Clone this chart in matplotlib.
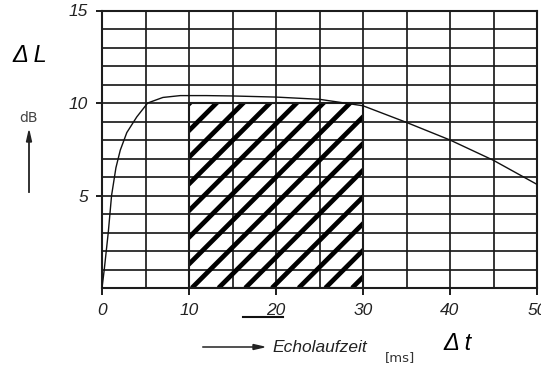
import matplotlib
matplotlib.use("Agg")
import matplotlib.pyplot as plt
import numpy as np
from matplotlib.patches import Rectangle
from matplotlib.lines import Line2D

# ---- data ----
echo_ms = [0, 0.26, 0.72, 1.1, 1.6, 2.1, 2.85, 4.0, 5.25, 7, 9, 12, 15, 20, 25, 30, 35, 40, 45, 50]
delta_L = [0, 1.0, 3.0, 5.0, 6.5, 7.45, 8.4, 9.25, 10.0, 10.3, 10.4, 10.4, 10.38, 10.32, 10.2, 9.85, 8.95, 8.0, 6.9, 5.6]
hatch_x = [10, 30]          # shaded time window (ms)
hatch_y = [0, 10]           # shaded level range (dB)
x_ticks = [0, 10, 20, 30, 40, 50]
x_ticklabels = ["0", "10", "20", "30", "40", "50"]
y_ticks = [5, 10, 15]
y_ticklabels = ["5", "10", "15"]

W, H = 541, 367
fig = plt.figure(figsize=(W / 100, H / 100), dpi=100)
fig.patch.set_facecolor("white")

# axes geometry in pixels
x0p, x1p = 102, 537
y0p, y1p = 288, 10.5
ax = fig.add_axes([x0p / W, 1 - y0p / H, (x1p - x0p) / W, (y0p - y1p) / H])
ax.set_xlim(0, 50)
ax.set_ylim(0, 15)

ink = "#1c1c1c"
# grid
for gx in np.arange(5, 50, 5):
    ax.axvline(gx, color=ink, lw=1.25, zorder=1)
for gy in np.arange(1, 15, 1):
    ax.axhline(gy, color=ink, lw=1.25, zorder=1)

for s in ax.spines.values():
    s.set_linewidth(1.5)
    s.set_color(ink)

tick_font = dict(family=["Liberation Sans Narrow", "Liberation Sans"], style="italic", size=12.5)
ax.set_xticks(x_ticks)
ax.set_xticklabels(x_ticklabels, fontdict=tick_font, color="#222222")
ax.set_yticks(y_ticks)
ax.set_yticklabels(y_ticklabels, fontdict=tick_font, color="#222222")
ax.tick_params(axis="x", length=5, width=1.4, color=ink, pad=6)
ax.tick_params(axis="y", length=4, width=1.4, color=ink, pad=6)

# hatched region
rect = Rectangle((hatch_x[0], hatch_y[0]), hatch_x[1] - hatch_x[0], hatch_y[1] - hatch_y[0],
                 facecolor="none", edgecolor=ink, lw=1.5, zorder=3)
ax.add_patch(rect)
px_per_ms = (x1p - x0p) / 50.0
px_per_db = (y0p - y1p) / 15.0
slope = px_per_ms / px_per_db   # 45 degrees on screen
spacing = 3.07
starts = np.arange(hatch_x[0] - (hatch_y[1] / slope) - spacing, hatch_x[1] + spacing, spacing) + 0.1
for c in starts:
    xs = np.array([c, c + hatch_y[1] / slope + 1])
    ys = slope * (xs - c)
    ln, = ax.plot(xs, ys, color="black", lw=3.4, solid_capstyle="butt", zorder=2)
    ln.set_clip_path(rect)

# curve
ax.plot(echo_ms, delta_L, color="#111111", lw=1.0, zorder=4)

def fx(px):
    return px / W

def fy(py):
    return 1 - py / H

# labels
fig.text(fx(12), fy(55), "\u0394 L", family="Liberation Sans", style="italic", size=17,
         va="center", ha="left", color="black")
fig.text(fx(29), fy(118), "dB", family="DejaVu Sans", size=10, va="center", ha="center", color="#444444")
fig.add_artist(Line2D([fx(29), fx(29)], [fy(192), fy(140)], color="#222222", lw=1.3))
fig.patches.append(plt.Polygon([[fx(26.5), fy(142)], [fx(31.5), fy(142)], [fx(29), fy(131)]],
                               closed=True, color="#222222", transform=fig.transFigure, figure=fig))

fig.add_artist(Line2D([fx(203), fx(255)], [fy(347), fy(347)], color="#222222", lw=1.1))
fig.patches.append(plt.Polygon([[fx(253), fy(344.5)], [fx(253), fy(349.5)], [fx(264), fy(347)]],
                               closed=True, color="#222222", transform=fig.transFigure, figure=fig))
fig.text(fx(272), fy(347), "Echolaufzeit", family=["Liberation Sans Narrow", "Liberation Sans"],
         style="italic", size=12.5, va="center", ha="left", color="#222222")
fig.text(fx(385), fy(358), "[ms]", family="DejaVu Sans", size=9.5, va="center", ha="left", color="#333333")
fig.text(fx(443), fy(343), "\u0394 t", family="Liberation Sans", style="italic", size=17,
         va="center", ha="left", color="black")

# stray stroke under the "20" label
fig.add_artist(Line2D([fx(243), fx(283)], [fy(317), fy(317)], color="#111111", lw=1.5))

fig.savefig("out.png", dpi=100, facecolor="white")
